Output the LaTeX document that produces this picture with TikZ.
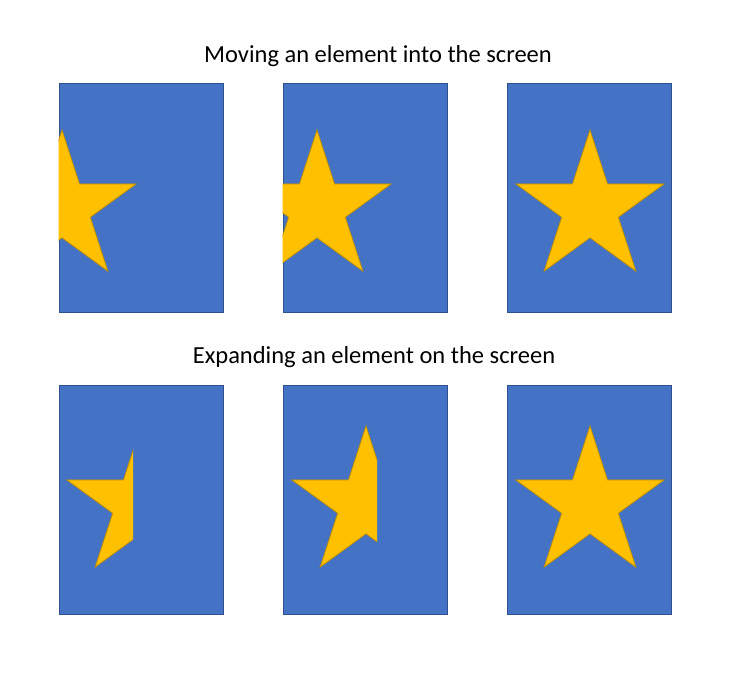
\documentclass[tikz,border=0pt]{standalone}
\usepackage{fontspec}
\setmainfont{Carlito}
\usetikzlibrary{shapes.geometric}
\definecolor{screenblue}{HTML}{4472C4}
\definecolor{screenline}{HTML}{2F528F}
\definecolor{staryellow}{HTML}{FFC000}
\definecolor{starline}{HTML}{BF9000}
\tikzstyle{screen} = [rectangle, draw=screenline, fill=screenblue, line width=0.8pt,
    minimum width=164pt, minimum height=229pt, inner sep=0pt]
\tikzstyle{st} = [star, star points=5, star point ratio=2.618, draw=starline,
    fill=staryellow, line width=0.8pt, minimum size=156pt, inner sep=0pt]
\tikzstyle{title} = [anchor=base, inner sep=0pt, font=\fontsize{24.5}{29}\selectfont]
\begin{document}
\begin{tikzpicture}[x=1pt,y=-1pt]
  \useasboundingbox (0,0) rectangle (731,678);

  \node[title] (t1) at (378,62) {Moving an element into the screen};
  \node[title] (t2) at (374,363) {Expanding an element on the screen};

  \node[screen] (s1) at (141,197.5) {};
  \node[screen] (s2) at (365,197.5) {};
  \node[screen] (s3) at (589,197.5) {};
  \node[screen] (s4) at (141,499.5) {};
  \node[screen] (s5) at (365,499.5) {};
  \node[screen] (s6) at (589,499.5) {};

  % moving in
  \begin{scope}
    \clip (s1.south west) rectangle (s1.north east);
    \node[st] (a1) at (62,208) {};
  \end{scope}
  \begin{scope}
    \clip (s2.south west) rectangle (s2.north east);
    \node[st] (a2) at (317,208) {};
  \end{scope}
  \node[st] (a3) at (590,208) {};

  % expanding
  \begin{scope}
    \clip (s4.south west) rectangle (133,385);
    \node[st] (b1) at (141,504) {};
  \end{scope}
  \begin{scope}
    \clip (s5.south west) rectangle (377,385);
    \node[st] (b2) at (366,504) {};
  \end{scope}
  \node[st] (b3) at (590,504) {};
\end{tikzpicture}
\end{document}
